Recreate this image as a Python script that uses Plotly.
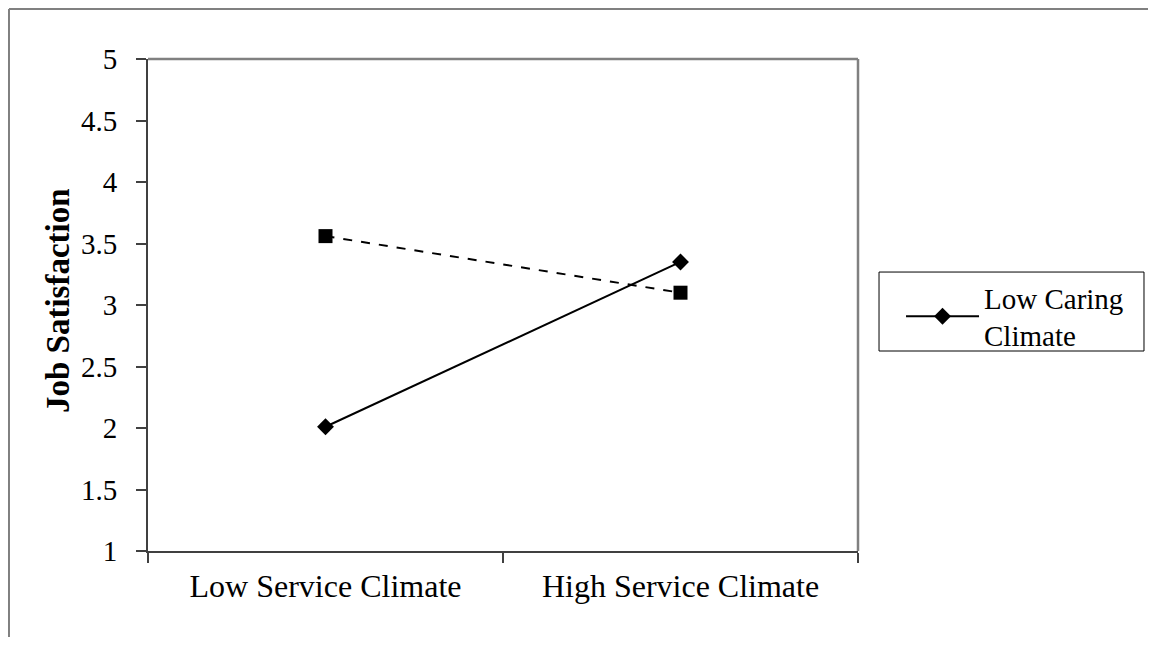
import plotly.graph_objects as go

categories = ["Low Service Climate", "High Service Climate"]
low_caring = [2.01, 3.35]
high_caring = [3.56, 3.10]
y_ticks = [1, 1.5, 2, 2.5, 3, 3.5, 4, 4.5, 5]
y_tick_text = ["1", "1.5", "2", "2.5", "3", "3.5", "4", "4.5", "5"]

FONT = "Liberation Serif, Times New Roman, serif"

fig = go.Figure()
fig.add_trace(go.Scatter(
    x=categories, y=low_caring, mode="lines+markers",
    name="Low Caring<br>Climate",
    line=dict(color="black", width=2),
    marker=dict(symbol="diamond", size=13, color="black"),
))
fig.add_trace(go.Scatter(
    x=categories, y=high_caring, mode="lines+markers",
    name="High Caring<br>Climate", showlegend=False,
    line=dict(color="black", width=2, dash="dash"),
    marker=dict(symbol="square", size=14, color="black"),
))

fig.update_layout(
    width=1140, height=629,
    margin=dict(l=140, r=290, t=51, b=86),
    paper_bgcolor="white", plot_bgcolor="white",
    font=dict(family=FONT, size=29, color="black"),
    showlegend=True,
    legend=dict(
        x=1.0606, y=0.567, xanchor="left", yanchor="top",
        borderwidth=0, bgcolor="rgba(0,0,0,0)",
        font=dict(family=FONT, size=29, color="black"),
        itemwidth=73,
    ),
    xaxis=dict(
        type="category", range=[-0.5, 1.5],
        tickson="boundaries", ticks="outside", ticklen=10, tickcolor="#404040",
        tickwidth=1.5, ticklabelstandoff=6,
        showline=True, linecolor="#404040", linewidth=2,
        showgrid=False, zeroline=False,
        tickfont=dict(family=FONT, size=32, color="black"),
    ),
    yaxis=dict(
        range=[1, 5], tickvals=y_ticks, ticktext=y_tick_text,
        ticks="outside", ticklen=10, tickcolor="#404040", tickwidth=1.5,
        ticklabelstandoff=13,
        showline=True, linecolor="#404040", linewidth=2,
        showgrid=False, zeroline=False,
        tickfont=dict(family=FONT, size=29, color="black"),
    ),
    annotations=[
        dict(text="<b>Job Satisfaction</b>", xref="paper", yref="paper",
             x=-0.1268, y=0.510, xanchor="center", yanchor="middle",
             textangle=-90, showarrow=False,
             font=dict(family=FONT, size=33, color="black")),
    ],
    shapes=[
        # plot area top & right (gray)
        dict(type="line", xref="paper", yref="paper", x0=0, x1=1, y0=1, y1=1,
             line=dict(color="#808080", width=2.5)),
        dict(type="line", xref="paper", yref="paper", x0=1, x1=1, y0=0, y1=1,
             line=dict(color="#808080", width=2.5)),
        # legend box
        dict(type="rect", xref="paper", yref="paper", x0=1.0296, x1=1.4028, y0=0.4065, y1=0.567,
             line=dict(color="black", width=1), layer="below"),
        # outer chart border (top & left)
        dict(type="line", xref="paper", yref="paper", x0=-0.1958, x1=1.41, y0=1.1016, y1=1.1016,
             line=dict(color="#808080", width=2)),
        dict(type="line", xref="paper", yref="paper", x0=-0.1958, x1=-0.1958, y0=-0.18, y1=1.1016,
             line=dict(color="#808080", width=2)),
    ],
)

fig.write_html("out.html")
